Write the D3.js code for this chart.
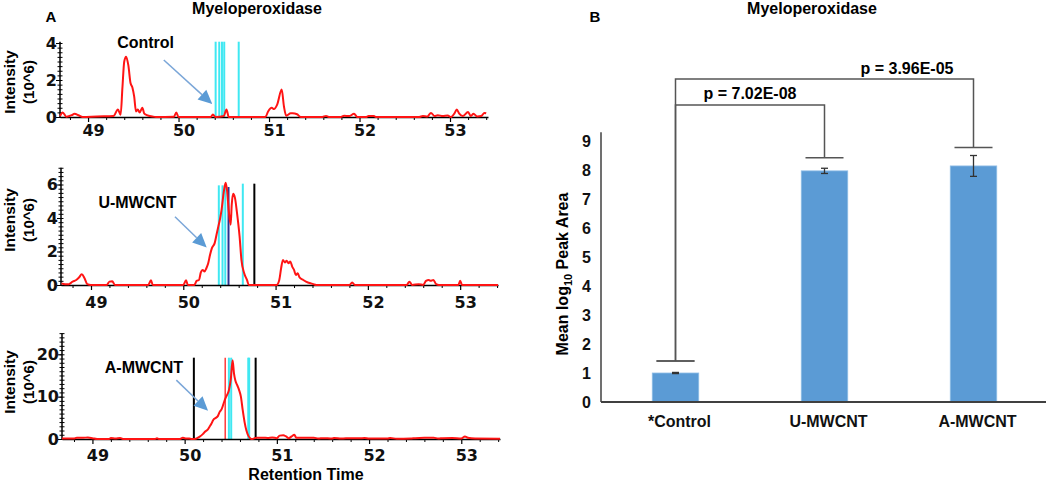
<!DOCTYPE html>
<html><head><meta charset="utf-8">
<script src="https://cdn.jsdelivr.net/npm/d3@7"></script>
<style>
body{margin:0;background:#fff;}
svg{display:block;font-family:"Liberation Sans",Arial,sans-serif;font-weight:bold;}
</style></head><body>
<svg id="c" width="1050" height="482"></svg>
<script>
// ---------------- DATA ----------------
const rtTicks = [49, 50, 51, 52, 53];

// [retention time, intensity (10^6)]
const controlTrace = [[48.69,0.05],[48.72,0.25],[48.76,0.02],[48.82,0.1],[48.85,0.17],[48.9,0.08],[48.94,0],[49.1,0.03],[49.28,0.05],[49.33,0.4],[49.36,0.12],[49.38,1.6],[49.40,3.0],[49.42,3.26],[49.445,2.8],[49.47,1.82],[49.49,1.6],[49.51,1.1],[49.53,0.3],[49.55,0.4],[49.57,0.25],[49.60,0.5],[49.62,0.2],[49.65,0.1],[49.71,0.03],[49.75,0],[49.95,0.02],[49.975,0.25],[50.0,0],[50.355,0],[50.38,0.13],[50.41,0],[50.50,0.05],[50.53,0.4],[50.555,0],[50.96,0],[50.99,0.3],[51.03,0.5],[51.055,0.43],[51.09,0.67],[51.14,1.48],[51.165,0.57],[51.19,0.07],[51.24,0.2],[51.26,0.2],[51.31,0.15],[51.35,0],[51.59,0],[51.63,0.06],[51.66,0],[51.79,0],[51.83,0.07],[51.885,0.05],[51.94,0.17],[51.975,0],[52.07,0],[52.10,0.05],[52.16,0.05],[52.18,0],[52.66,0],[52.70,0.05],[52.75,0.03],[52.79,0.22],[52.83,0.05],[52.865,0.1],[52.92,0.05],[52.975,0.08],[53.01,0],[53.05,0.2],[53.075,0.4],[53.10,0.2],[53.14,0.05],[53.20,0.27],[53.23,0.05],[53.26,0.17],[53.30,0.03],[53.345,0.05],[53.38,0.22],[53.40,0.2]];

const umwcntTrace = [[48.68,0.1],[48.72,0.05],[48.76,0.05],[48.8,0.2],[48.84,0.3],[48.87,0.45],[48.9,0.64],[48.93,0.4],[48.96,0.05],[49.0,0],[49.17,0],[49.2,0.2],[49.23,0.22],[49.26,0],[49.62,0],[49.65,0.28],[49.67,0],[50.0,0],[50.03,0.28],[50.05,0],[50.12,0],[50.145,0.25],[50.17,0.3],[50.19,0.75],[50.21,0.9],[50.23,0.8],[50.25,1.0],[50.27,1.3],[50.29,1.8],[50.31,2.2],[50.34,2.5],[50.36,3.0],[50.38,3.5],[50.40,4.0],[50.415,4.5],[50.44,5.6],[50.459,6.1],[50.475,5.6],[50.49,4.6],[50.513,3.6],[50.525,4.8],[50.54,5.45],[50.56,5.2],[50.58,4.4],[50.61,2.9],[50.63,1.5],[50.66,0.7],[50.69,0.3],[50.71,0],[51.01,0],[51.04,0.3],[51.06,1.0],[51.08,1.5],[51.1,1.35],[51.12,1.45],[51.14,1.3],[51.16,1.4],[51.18,1.1],[51.2,0.9],[51.22,0.6],[51.24,0.7],[51.26,0.45],[51.3,0.3],[51.35,0.15],[51.38,0.1],[51.41,0.05],[51.44,0],[51.8,0],[51.83,0.15],[51.86,0],[52.42,0],[52.45,0.2],[52.48,0],[52.55,0.05],[52.6,0],[52.63,0.25],[52.66,0.3],[52.68,0.25],[52.71,0.3],[52.74,0.05],[52.77,0],[52.98,0],[53.0,0.25],[53.02,0],[53.41,0]];

const amwcntTrace = [[48.67,0.1],[48.8,0.1],[48.83,0.3],[48.9,0.3],[48.95,0.35],[49.0,0.2],[49.05,0],[49.18,0],[49.2,0.25],[49.25,0.1],[49.3,0.25],[49.33,0],[49.68,0],[49.7,0.15],[49.72,0],[49.95,0],[49.98,0.3],[50.0,0.2],[50.05,0.1],[50.08,0],[50.11,0],[50.16,0.5],[50.2,1.2],[50.22,1.7],[50.25,2.2],[50.27,2.9],[50.29,3.6],[50.31,4.5],[50.34,5.0],[50.36,5.4],[50.38,6.4],[50.4,7.0],[50.42,8.2],[50.44,9.5],[50.46,10.4],[50.48,11.5],[50.50,14.0],[50.52,18.6],[50.535,15.5],[50.55,13.8],[50.57,12.7],[50.59,11.6],[50.61,10.0],[50.63,6.8],[50.65,4.0],[50.67,2.0],[50.69,0.8],[50.71,0.2],[50.73,0],[50.78,0.3],[50.85,0.3],[50.9,0.25],[50.95,0.35],[51.0,0.2],[51.03,0.8],[51.07,0.9],[51.1,0.6],[51.13,0.2],[51.16,0.6],[51.19,1.0],[51.21,0.3],[51.3,0.3],[51.4,0.3],[51.45,0.1],[51.5,0.2],[51.6,0.1],[51.62,0.25],[51.7,0.1],[51.8,0.2],[51.9,0.15],[51.95,0.25],[52.0,0.1],[52.2,0.1],[52.23,0.25],[52.3,0.05],[52.45,0.1],[52.5,0.2],[52.6,0.3],[52.7,0.3],[52.75,0.1],[52.8,0.2],[52.9,0.25],[53.0,0.1],[53.04,0.6],[53.07,0.3],[53.15,0.1],[53.42,0.05]];

// [retention time, height (10^6), kind]
const controlMarkers = [[50.41,4.07,"cyan"],[50.45,4.07,"cyan"],[50.48,4.07,"cyan"],[50.505,4.07,"cyan"],[50.665,4.07,"cyan"]];
const umwcntMarkers  = [[50.385,5.95,"cyan"],[50.425,5.95,"cyan"],[50.455,5.95,"cyan"],[50.49,5.85,"navy"],[50.645,6.05,"cyan"],[50.77,6.05,"black"]];
const amwcntMarkers  = [[50.10,19.2,"black"],[50.44,19.2,"red"],[50.48,19.2,"cyan"],[50.505,19.2,"cyan"],[50.69,19.2,"cyan"],[50.70,19.2,"cyan"],[50.77,19.2,"black"]];

const sampleLabels = ["Control", "U-MWCNT", "A-MWCNT"];

// Panel B
const groups = ["*Control", "U-MWCNT", "A-MWCNT"];
const meanLogArea = [1.0, 7.97, 8.14];
const errLogArea = [0.02, 0.09, 0.36];
const yTicksB = [0,1,2,3,4,5,6,7,8,9];
const pLabels = ["p = 7.02E-08", "p = 3.96E-05"];
const bracketPairs = [[0,1],[0,2]];
const bracketLevels = [10.24, 11.14];
const bracketCaps = [[1.41, 8.42],[1.41, 8.78]];

// ---------------- DRAW ----------------
const svg = d3.select("#c");
const RED = "#ff1414";
const TICKFONT = "'DejaVu Sans',Verdana,sans-serif";
const markerColor = {cyan:"#3fe8f2", navy:"#2c3190", black:"#000", red:"#ff3a3a"};
const markerWidth = {cyan:2, navy:2, black:2, red:1.5};
const ARROW_LINE = "#7aa6d8", ARROW_HEAD = "#5b9bd5";

function arrow(g, x1, y1, x2, y2){
  const L = 14, W = 6.5;
  const dx = x2-x1, dy = y2-y1, len = Math.hypot(dx,dy);
  const ux = dx/len, uy = dy/len;
  const bx = x2-ux*L, by = y2-uy*L;
  g.append("line").attr("x1",x1).attr("y1",y1).attr("x2",bx).attr("y2",by)
    .attr("stroke",ARROW_LINE).attr("stroke-width",1.5);
  g.append("path").attr("d",`M${x2},${y2}L${bx-uy*W},${by+ux*W}L${bx+uy*W},${by-ux*W}Z`)
    .attr("fill",ARROW_HEAD);
}

function chromPanel(cfg){
  const x = d3.scaleLinear().domain(cfg.xDomain).range(cfg.xRange);
  const y = d3.scaleLinear().domain(cfg.yDomain).range(cfg.yRange);
  const g = svg.append("g");

  // vertical markers
  g.selectAll("line.mk").data(cfg.markers).join("line").attr("class","mk")
    .attr("x1",d=>x(d[0])).attr("x2",d=>x(d[0]))
    .attr("y1",y(0)).attr("y2",d=>y(d[1]))
    .attr("stroke",d=>markerColor[d[2]]).attr("stroke-width",d=>markerWidth[d[2]]);

  // x axis
  const x0 = y(0);
  const minorX = d3.range(48.8, 53.41, 0.2).filter(v => Math.abs(v - Math.round(v)) > 0.01);
  g.append("g").attr("transform",`translate(0,${x0})`)
    .call(d3.axisBottom(x).tickValues(minorX).tickSize(3).tickSizeOuter(0).tickFormat(""))
    .call(a=>a.select(".domain").remove());
  const xa = g.append("g").attr("transform",`translate(0,${x0})`)
    .call(d3.axisBottom(x).tickValues(rtTicks).tickSize(5).tickSizeOuter(0).tickFormat(d3.format("d")));
  xa.select(".domain").attr("stroke","#000").attr("stroke-width",1.5);
  xa.selectAll("line").attr("stroke","#000").attr("stroke-width",1.2);
  xa.selectAll("text").attr("y",cfg.xLabelDy).attr("dy",0).attr("dx",5)
    .attr("font-size",16).attr("font-weight","bold").attr("fill","#111")
    .attr("font-family",TICKFONT);

  // y axis
  const xL = cfg.xRange[0];
  const minorY = d3.range(0, cfg.yMax+1e-9, cfg.yMinorStep);
  const yl = g.append("g").attr("transform",`translate(${xL},0)`);
  yl.append("line").attr("x1",0).attr("x2",0).attr("y1",y(0)).attr("y2",y(cfg.yMax))
    .attr("stroke","#000").attr("stroke-width",1.5);
  yl.append("g").call(d3.axisLeft(y).tickValues(minorY).tickSize(2.5).tickFormat(""))
    .call(a=>a.select(".domain").remove());
  yl.append("g").call(d3.axisRight(y).tickValues(minorY).tickSize(2.5).tickFormat(""))
    .call(a=>a.select(".domain").remove());
  const ya = yl.append("g").call(d3.axisLeft(y).tickValues(cfg.yMajor).tickSize(4).tickPadding(-1).tickFormat(d3.format("d")));
  ya.select(".domain").remove();
  ya.selectAll("text").attr("font-size",16).attr("font-weight","bold").attr("fill","#111")
    .attr("font-family",TICKFONT);
  yl.selectAll("line").attr("stroke","#000");

  // trace
  g.append("path").datum(cfg.trace)
    .attr("fill","none").attr("stroke",RED).attr("stroke-width",2).attr("stroke-linejoin","round")
    .attr("d", d3.line().x(d=>x(d[0])).y(d=>y(d[1])).curve(d3.curveMonotoneX));

  // y label
  g.append("text").attr("transform",`translate(14.5,${cfg.yLabelCy}) rotate(-90)`)
    .attr("text-anchor","middle").attr("font-size",15.5).text("Intensity");
  g.append("text").attr("transform",`translate(34,${cfg.yLabelCy}) rotate(-90)`)
    .attr("text-anchor","middle").attr("font-size",15).text("(10^6)");

  // sample label + arrow
  g.append("text").attr("x",x(cfg.label[0])).attr("y",y(cfg.label[1]))
    .attr("text-anchor","middle").attr("font-size",16).text(cfg.labelText);
  arrow(g, x(cfg.arrow[0]), y(cfg.arrow[1]), x(cfg.arrow[2]), y(cfg.arrow[3]));
}

chromPanel({xDomain:[48.69,53.42], xRange:[60,488], yDomain:[0,4], yRange:[117,43], yMax:4.07, yMinorStep:0.25,
  yMajor:[0,2,4], trace:controlTrace, markers:controlMarkers, xLabelDy:19, yLabelCy:82,
  labelText:sampleLabels[0], label:[49.636,3.72], arrow:[49.837,3.08,50.373,0.7]});
chromPanel({xDomain:[48.675,53.41], xRange:[61,498], yDomain:[0,6], yRange:[285,184.5], yMax:7, yMinorStep:0.25,
  yMajor:[0,2,4,6], trace:umwcntTrace, markers:umwcntMarkers, xLabelDy:22.5, yLabelCy:220,
  labelText:sampleLabels[1], label:[49.504,4.58], arrow:[49.91,4.07,50.254,2.24]});
chromPanel({xDomain:[48.67,53.42], xRange:[62,500], yDomain:[0,20], yRange:[439,354.3], yMax:25, yMinorStep:1,
  yMajor:[0,10,20], trace:amwcntTrace, markers:amwcntMarkers, xLabelDy:22, yLabelCy:382,
  labelText:sampleLabels[2], label:[49.558,15.68], arrow:[49.91,13.9,50.254,6.67]});

// Panel A titles
svg.append("text").attr("x",257).attr("y",13.5).attr("text-anchor","middle").attr("font-size",16).text("Myeloperoxidase");
svg.append("text").attr("x",51).attr("y",21.5).attr("text-anchor","middle").attr("font-size",15).text("A");
svg.append("text").attr("x",306).attr("y",479.5).attr("text-anchor","middle").attr("font-size",16).text("Retention Time");

// ---------------- PANEL B ----------------
const xb = d3.scaleBand().domain(groups).range([601,1048]).paddingInner(0.688).paddingOuter(0.344);
const yb = d3.scaleLinear().domain([0,9]).range([402,141]);
const gb = svg.append("g");
const AX = "#404040";

gb.selectAll("rect.bar").data(groups).join("rect").attr("class","bar")
  .attr("x",d=>xb(d)).attr("width",xb.bandwidth())
  .attr("y",(d,i)=>yb(meanLogArea[i])).attr("height",(d,i)=>yb(0)-yb(meanLogArea[i]))
  .attr("fill","#5b9bd5").attr("stroke","#8fbde6").attr("stroke-width",0.8);

// error bars
const cx = d => xb(d) + xb.bandwidth()/2;
gb.selectAll("g.err").data(groups).join("g").attr("class","err").each(function(d,i){
  const e = d3.select(this), c = cx(d);
  const lo = yb(meanLogArea[i]-errLogArea[i]), hi = yb(meanLogArea[i]+errLogArea[i]);
  e.append("line").attr("x1",c).attr("x2",c).attr("y1",lo).attr("y2",hi).attr("stroke","#333").attr("stroke-width",1.3);
  e.append("line").attr("x1",c-3.5).attr("x2",c+3.5).attr("y1",lo).attr("y2",lo).attr("stroke","#333").attr("stroke-width",1.3);
  e.append("line").attr("x1",c-3.5).attr("x2",c+3.5).attr("y1",hi).attr("y2",hi).attr("stroke","#333").attr("stroke-width",1.3);
});

// axes
gb.append("g").attr("transform",`translate(601,0)`)
  .call(d3.axisLeft(yb).tickValues(yTicksB).tickSize(0).tickPadding(10).tickFormat(d3.format("d")))
  .call(a=>{a.select(".domain").remove();
    a.selectAll("text").attr("font-size",16).attr("font-weight","bold").attr("fill","#111")
     .attr("font-family","'Liberation Sans',Arial,sans-serif");});
gb.append("line").attr("x1",601).attr("x2",601).attr("y1",yb(0)).attr("y2",yb(9.3)).attr("stroke",AX).attr("stroke-width",1.5);
gb.append("line").attr("x1",601).attr("x2",1046).attr("y1",yb(0)).attr("y2",yb(0)).attr("stroke",AX).attr("stroke-width",1.8);
gb.append("g").attr("transform",`translate(0,${yb(0)})`)
  .call(d3.axisBottom(xb).tickSize(0).tickPadding(0))
  .call(a=>{a.select(".domain").remove();
    a.selectAll("text").attr("y",25).attr("dy",0).attr("dx",4).attr("font-size",16).attr("font-weight","bold")
     .attr("fill","#111").attr("font-family","'Liberation Sans',Arial,sans-serif");});

// significance brackets
const BR = "#555";
bracketPairs.forEach((p,k)=>{
  const a = cx(groups[p[0]]), b = cx(groups[p[1]]), yl = yb(bracketLevels[k]);
  const ya = yb(bracketCaps[k][0]), ybb = yb(bracketCaps[k][1]);
  gb.append("path").attr("d",`M${a},${ya}V${yl}H${b}V${ybb}`).attr("fill","none").attr("stroke",BR).attr("stroke-width",1.5);
  gb.append("line").attr("x1",a-19).attr("x2",a+19).attr("y1",ya).attr("y2",ya).attr("stroke",BR).attr("stroke-width",1.5);
  gb.append("line").attr("x1",b-19).attr("x2",b+19).attr("y1",ybb).attr("y2",ybb).attr("stroke",BR).attr("stroke-width",1.5);
});
gb.append("text").attr("x",(cx(groups[0])+cx(groups[1]))/2).attr("y",yb(bracketLevels[0])-6.5)
  .attr("text-anchor","middle").attr("font-size",16).text(pLabels[0]);
gb.append("text").attr("x",(cx(groups[1])+cx(groups[2]))/2+8).attr("y",yb(bracketLevels[1])-5)
  .attr("text-anchor","middle").attr("font-size",16).text(pLabels[1]);

// y label with subscript
const yt = gb.append("text").attr("transform","translate(568,274) rotate(-90)").attr("text-anchor","middle").attr("font-size",16);
yt.append("tspan").text("Mean log");
yt.append("tspan").attr("font-size",11).attr("dy",4).text("10");
yt.append("tspan").attr("dy",-4).text(" Peak Area");

// titles
svg.append("text").attr("x",812).attr("y",13.5).attr("text-anchor","middle").attr("font-size",16).text("Myeloperoxidase");
svg.append("text").attr("x",595).attr("y",21.5).attr("text-anchor","middle").attr("font-size",15).text("B");
</script>
</body></html>
